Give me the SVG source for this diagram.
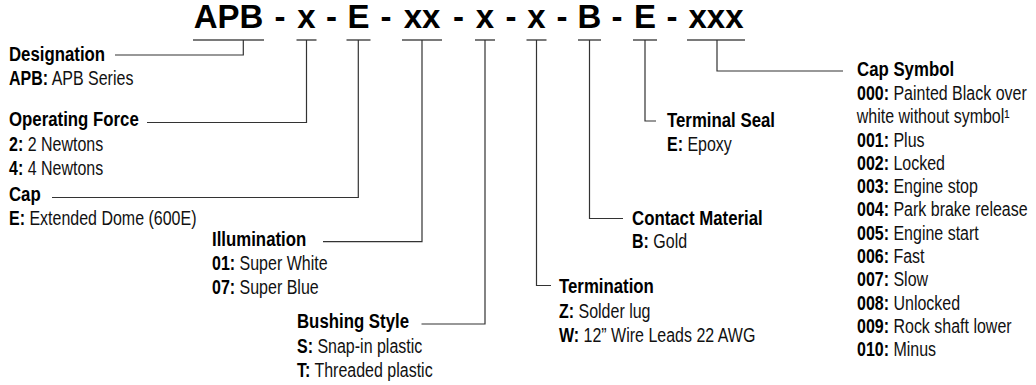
<svg xmlns="http://www.w3.org/2000/svg" width="1036" height="385" viewBox="0 0 1036 385">
<style>
.t{font-family:'Liberation Sans',Arial,sans-serif;font-weight:bold;font-size:33px;fill:#000;text-anchor:middle}
.h,.b{font-family:'Liberation Sans',Arial,sans-serif;transform-box:fill-box;transform-origin:0 0;transform:scaleX(0.82)}
.h{font-weight:bold;font-size:20.5px;fill:#000}
.b{font-size:19.5px;fill:#111}
.k{font-weight:bold;fill:#000}
.u{stroke:#7a7a7a;stroke-width:2;fill:none}
.c{stroke:#333;stroke-width:1.2;fill:none}
</style>
<rect width="1036" height="385" fill="#fff"/>
<g id="title">
<text class="t" x="228.5" y="28">APB</text>
<text class="t" x="280" y="28">-</text>
<text class="t" x="306.5" y="28">x</text>
<text class="t" x="331.5" y="28">-</text>
<text class="t" x="358.5" y="28">E</text>
<text class="t" x="386" y="28">-</text>
<text class="t" x="422" y="28">xx</text>
<text class="t" x="458.5" y="28">-</text>
<text class="t" x="485" y="28">x</text>
<text class="t" x="511" y="28">-</text>
<text class="t" x="536.5" y="28">x</text>
<text class="t" x="562" y="28">-</text>
<text class="t" x="589.5" y="28">B</text>
<text class="t" x="617" y="28">-</text>
<text class="t" x="645" y="28">E</text>
<text class="t" x="672" y="28">-</text>
<text class="t" x="716" y="28">xxx</text>
</g>
<g id="underlines">
<path class="u" d="M193 40H264M296.5 40H316.5M346.5 40H370.5M402 40H442M475 40H495M526.5 40H546.5M578 40H601M633 40H657M687 40H745"/>
</g>
<g id="connectors">
<path class="c" d="M243.3 40V55H115"/>
<path class="c" d="M306.5 40V122.5H147"/>
<path class="c" d="M358.3 40V197.5H52"/>
<path class="c" d="M422 40V241.7H323"/>
<path class="c" d="M485 40V324H421.5"/>
<path class="c" d="M536.5 40V285.5H551"/>
<path class="c" d="M589.5 40V218.5H623"/>
<path class="c" d="M645 40V121H656"/>
<path class="c" d="M717 40V71H843"/>
</g>
<g id="designation">
<text class="h" x="9" y="61.5">Designation</text>
<text class="b" x="9" y="85"><tspan class="k">APB:</tspan> APB Series</text>
</g>
<g id="operating-force">
<text class="h" x="9" y="126.5">Operating Force</text>
<text class="b" x="9" y="151.5"><tspan class="k">2:</tspan> 2 Newtons</text>
<text class="b" x="9" y="175"><tspan class="k">4:</tspan> 4 Newtons</text>
</g>
<g id="cap">
<text class="h" x="9" y="201.5">Cap</text>
<text class="b" x="9" y="225"><tspan class="k">E:</tspan> Extended Dome (600E)</text>
</g>
<g id="illumination">
<text class="h" x="212" y="246.5">Illumination</text>
<text class="b" x="212" y="270.5"><tspan class="k">01:</tspan> Super White</text>
<text class="b" x="212" y="294.5"><tspan class="k">07:</tspan> Super Blue</text>
</g>
<g id="bushing-style">
<text class="h" x="297" y="328.5">Bushing Style</text>
<text class="b" x="297" y="353"><tspan class="k">S:</tspan> Snap-in plastic</text>
<text class="b" x="297" y="377"><tspan class="k">T:</tspan> Threaded plastic</text>
</g>
<g id="termination">
<text class="h" x="559" y="293.5">Termination</text>
<text class="b" x="559" y="318"><tspan class="k">Z:</tspan> Solder lug</text>
<text class="b" x="559" y="342.5"><tspan class="k">W:</tspan> 12” Wire Leads 22 AWG</text>
</g>
<g id="contact-material">
<text class="h" x="632" y="225">Contact Material</text>
<text class="b" x="632" y="248.5"><tspan class="k">B:</tspan> Gold</text>
</g>
<g id="terminal-seal">
<text class="h" x="667" y="127">Terminal Seal</text>
<text class="b" x="667" y="151.5"><tspan class="k">E:</tspan> Epoxy</text>
</g>
<g id="cap-symbol">
<text class="h" x="857" y="76.5">Cap Symbol</text>
<text class="b" x="857" y="100"><tspan class="k">000:</tspan> Painted Black over</text>
<text class="b" x="857" y="123.3">white without symbol¹</text>
<text class="b" x="857" y="146.6"><tspan class="k">001:</tspan> Plus</text>
<text class="b" x="857" y="169.9"><tspan class="k">002:</tspan> Locked</text>
<text class="b" x="857" y="193.2"><tspan class="k">003:</tspan> Engine stop</text>
<text class="b" x="857" y="216.5"><tspan class="k">004:</tspan> Park brake release</text>
<text class="b" x="857" y="239.8"><tspan class="k">005:</tspan> Engine start</text>
<text class="b" x="857" y="263.1"><tspan class="k">006:</tspan> Fast</text>
<text class="b" x="857" y="286.4"><tspan class="k">007:</tspan> Slow</text>
<text class="b" x="857" y="309.7"><tspan class="k">008:</tspan> Unlocked</text>
<text class="b" x="857" y="333"><tspan class="k">009:</tspan> Rock shaft lower</text>
<text class="b" x="857" y="356.3"><tspan class="k">010:</tspan> Minus</text>
</g>
</svg>
